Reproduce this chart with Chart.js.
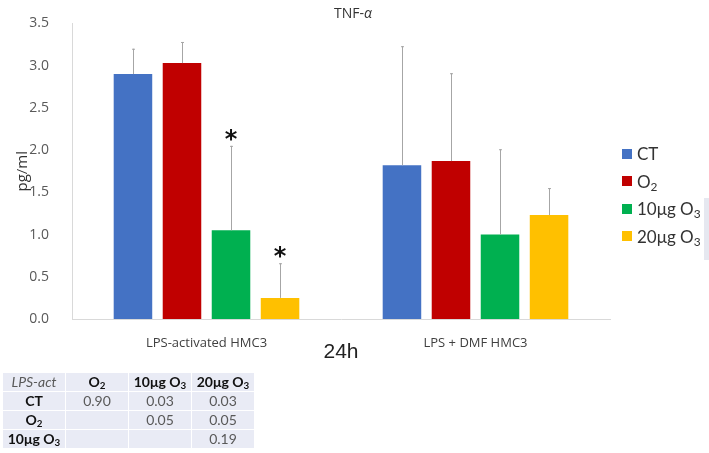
<!DOCTYPE html>
<html>
<head>
<meta charset="utf-8">
<script src="https://cdn.jsdelivr.net/npm/chart.js@4"></script>
<style>
  body { margin: 0; background: #fff; }
  #wrap { position: relative; width: 709px; height: 453px; overflow: hidden; }
  #title { position: absolute; left: 334px; top: 3px; font: 14px "Open Sans", sans-serif; color: #333; }
  #legend { position: absolute; left: 622px; top: 140px; font: 17px Lato, sans-serif; color: #333; }
  #legend div { height: 27.5px; display: flex; align-items: center; }
  #legend span.sw { width: 10px; height: 10px; display: inline-block; margin-right: 5px; }
  #edge { position: absolute; left: 704px; top: 198px; width: 5px; height: 62px; background: #e6e8f0; }
  table { position: absolute; left: 2px; top: 372px; border-collapse: collapse; font: 14px Lato, sans-serif; }
  td { background: #e9ebf5; border: 1px solid #fff; height: 18px; width: 62px; text-align: center; color: #595959; padding: 0; line-height: 18px; }
  td.h { color: #111; font-weight: bold; }
  td.it { font-style: italic; }
  sub { font-size: 70%; line-height: 0; vertical-align: -0.25em; }
</style>
</head>
<body>
<div id="wrap">
  <canvas id="chart" width="709" height="453"></canvas>
  <div id="title">TNF-<i>α</i></div>
  <div id="legend"></div>
  <div id="edge"></div>
  <table id="pvals"></table>
</div>
<script>
// chart data
const groups = ['LPS-activated HMC3', 'LPS + DMF HMC3'];
const seriesNames = ['CT', 'O₂', '10μg O₃', '20μg O₃'];
const seriesLegend = ['CT', 'O<sub>2</sub>', '10μg O<sub>3</sub>', '20μg O<sub>3</sub>'];
const colors = ['#4472c4', '#c00000', '#00b050', '#ffc000'];

const ctValues = [2.90, 1.82];
const o2Values = [3.03, 1.87];
const o3_10Values = [1.05, 1.00];
const o3_20Values = [0.25, 1.23];

// upper error bar tops
const ctErr = [3.20, 3.23];
const o2Err = [3.28, 2.91];
const o3_10Err = [2.05, 2.01];
const o3_20Err = [0.66, 1.55];

// significance markers
const ctSig = ['', ''];
const o2Sig = ['', ''];
const o3_10Sig = ['*', ''];
const o3_20Sig = ['*', ''];

const yTicks = [0, 0.5, 1, 1.5, 2, 2.5, 3, 3.5];

// p-value table
const tableCols = ['LPS-act', 'O<sub>2</sub>', '10μg O<sub>3</sub>', '20μg O<sub>3</sub>'];
const tableRows = ['CT', 'O<sub>2</sub>', '10μg O<sub>3</sub>'];
const pValues = [
  ['0.90', '0.03', '0.03'],
  ['', '0.05', '0.05'],
  ['', '', '0.19']
];

const values = [ctValues, o2Values, o3_10Values, o3_20Values];
const errors = [ctErr, o2Err, o3_10Err, o3_20Err];
const sigs = [ctSig, o2Sig, o3_10Sig, o3_20Sig];

const errorBars = {
  id: 'errorBars',
  afterDatasetsDraw(chart) {
    const c = chart.ctx;
    const y = chart.scales.y;
    chart.data.datasets.forEach((ds, di) => {
      const meta = chart.getDatasetMeta(di);
      meta.data.forEach((bar, i) => {
        const top = y.getPixelForValue(errors[di][i]);
        const x = Math.round(bar.x) + 0.5;
        c.save();
        c.strokeStyle = '#a6a6a6';
        c.lineWidth = 1;
        c.beginPath();
        c.moveTo(x, bar.y);
        c.lineTo(x, top);
        c.moveTo(x - 1.5, top + 0.5);
        c.lineTo(x + 1.5, top + 0.5);
        c.stroke();
        if (sigs[di][i]) {
          c.fillStyle = '#111';
          c.font = 'bold 24px "DejaVu Sans", sans-serif';
          c.textAlign = 'center';
          c.textBaseline = 'middle';
          c.fillText(sigs[di][i], bar.x, top - 5);
        }
        c.restore();
      });
    });
  }
};

new Chart(document.getElementById('chart'), {
  type: 'bar',
  data: {
    labels: groups,
    datasets: seriesNames.map((name, i) => ({
      label: name,
      data: values[i],
      backgroundColor: colors[i],
      categoryPercentage: 0.729,
      barPercentage: 0.786
    }))
  },
  options: {
    responsive: false,
    animation: false,
    devicePixelRatio: 1,
    layout: { padding: { top: 16, right: 99, bottom: 88, left: 0 } },
    plugins: { legend: { display: false }, tooltip: { enabled: false } },
    scales: {
      x: {
        grid: { display: false },
        border: { color: '#d9d9d9' },
        ticks: { color: '#404040', font: { family: 'Open Sans', size: 13 }, padding: 8 },
        title: { display: true, text: '24h', color: '#222', font: { family: 'Liberation Sans', size: 21 }, padding: 0 },
        afterFit(s) { s.height = 46; }
      },
      y: {
        min: 0,
        max: 3.5,
        afterBuildTicks(s) { s.ticks = yTicks.map(v => ({ value: v })); },
        grid: { display: false },
        border: { color: '#d9d9d9' },
        ticks: {
          color: '#595959',
          font: { family: 'Open Sans', size: 14 },
          padding: 15,
          callback: v => v.toFixed(1)
        },
        title: { display: true, text: 'pg/ml', color: '#333', font: { family: 'Open Sans', size: 15 }, padding: { top: 14, bottom: 0 } },
        afterFit(s) { s.width = 72; }
      }
    }
  },
  plugins: [errorBars]
});

// legend
document.getElementById('legend').innerHTML = seriesLegend.map((t, i) =>
  `<div><span class="sw" style="background:${colors[i]}"></span><span>${t}</span></div>`).join('');

// table
let html = '<tr>' + tableCols.map((c, i) => `<td class="${i ? 'h' : 'it'}">${c}</td>`).join('') + '</tr>';
tableRows.forEach((r, ri) => {
  html += `<tr><td class="h">${r}</td>` + pValues[ri].map(v => `<td>${v}</td>`).join('') + '</tr>';
});
document.getElementById('pvals').innerHTML = html;
</script>
</body>
</html>
